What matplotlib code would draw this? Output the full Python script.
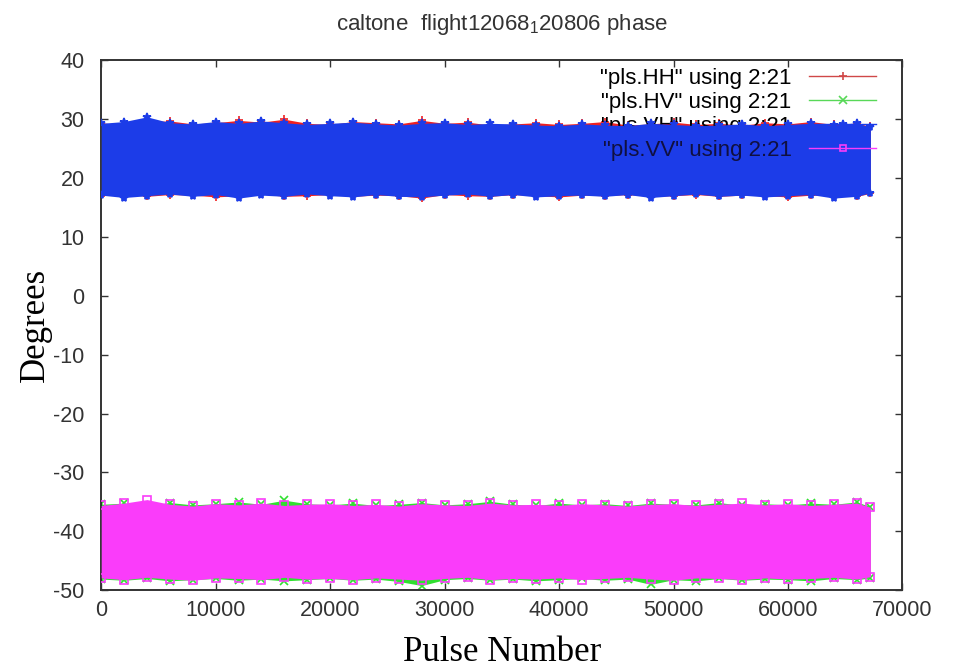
import matplotlib
matplotlib.use("Agg")
import matplotlib.pyplot as plt
from matplotlib.lines import Line2D

# sample positions along the pulse axis
pulse = [0, 2000, 4000, 6000, 8000, 10000, 12000, 14000, 16000, 18000,
         20000, 22000, 24000, 26000, 28000, 30000, 32000, 34000, 36000, 38000,
         40000, 42000, 44000, 46000, 48000, 50000, 52000, 54000, 56000, 58000,
         60000, 62000, 64000, 66000, 67200]

# upper / lower edges of each band, degrees
hh_hi = [29.4, 29.0, 29.6, 29.7, 29.2, 29.4, 29.8, 29.5, 30.0, 29.3,
         29.1, 29.6, 29.4, 29.2, 29.8, 29.3, 29.5, 29.0, 29.2, 29.4,
         29.1, 29.3, 29.6, 29.0, 29.2, 29.5, 29.1, 29.3, 29.0, 29.4,
         29.2, 29.6, 29.1, 29.3, 28.8]
hh_lo = [17.0, 17.3, 16.9, 17.2, 17.1, 16.8, 17.0, 17.3, 16.9, 17.0,
         17.2, 16.9, 17.1, 17.0, 16.6, 17.2, 17.0, 16.9, 17.2, 17.0,
         16.8, 17.1, 17.0, 17.2, 16.9, 17.0, 17.2, 16.9, 17.1, 17.0,
         16.8, 17.1, 17.0, 16.9, 17.4]
hv_hi = [-35.4, -35.2, -35.6, -35.1, -35.5, -35.3, -35.0, -35.4, -34.7, -35.3,
         -35.5, -35.2, -35.6, -35.4, -35.1, -35.5, -35.3, -34.9, -35.4, -35.6,
         -35.2, -35.5, -35.3, -35.6, -35.2, -35.4, -35.5, -35.1, -35.6, -35.3,
         -35.5, -35.2, -35.4, -35.0, -35.8]
hv_lo = [-48.1, -48.3, -48.0, -48.4, -48.2, -48.0, -48.3, -48.1, -48.4, -48.2,
         -48.0, -48.3, -48.1, -48.5, -49.2, -48.2, -48.0, -48.3, -48.1, -48.4,
         -48.2, -48.0, -48.3, -48.1, -49.0, -48.2, -48.4, -48.0, -48.3, -48.1,
         -48.2, -48.4, -48.0, -48.2, -47.9]
vh_hi = [29.3, 29.6, 30.4, 29.4, 29.2, 29.6, 29.3, 29.7, 29.4, 29.1,
         29.3, 29.5, 29.2, 29.0, 29.3, 29.4, 29.1, 29.3, 29.2, 29.0,
         28.9, 29.2, 29.0, 28.9, 29.3, 29.1, 28.9, 29.0, 29.2, 28.9,
         29.1, 29.3, 29.0, 29.4, 28.6]
vh_lo = [17.1, 16.7, 17.0, 17.3, 16.9, 17.2, 16.6, 17.1, 16.9, 17.3,
         17.0, 16.8, 17.2, 16.9, 16.8, 17.1, 17.3, 16.9, 17.2, 16.8,
         17.0, 17.1, 16.9, 17.2, 16.7, 17.0, 17.3, 16.9, 17.1, 16.8,
         17.0, 17.2, 16.6, 16.9, 17.5]
vv_hi = [-35.6, -35.2, -34.6, -35.4, -35.7, -35.3, -35.5, -35.2, -35.6, -35.4,
         -35.3, -35.6, -35.4, -35.7, -35.3, -35.5, -35.6, -35.2, -35.5, -35.4,
         -35.6, -35.3, -35.5, -35.7, -35.4, -35.3, -35.6, -35.4, -35.2, -35.5,
         -35.3, -35.6, -35.4, -35.2, -35.9]
vv_lo = [-47.9, -48.2, -47.8, -48.1, -48.3, -47.9, -48.0, -48.2, -47.8, -48.1,
         -48.0, -48.2, -47.9, -48.1, -48.3, -48.0, -47.8, -48.2, -48.0, -48.1,
         -47.9, -48.2, -48.0, -47.8, -48.1, -48.3, -47.9, -48.0, -48.2, -47.9,
         -48.1, -48.0, -47.8, -48.1, -47.7]

labels = ['"pls.HH" using 2:21', '"pls.HV" using 2:21',
          '"pls.VH" using 2:21', '"pls.VV" using 2:21']
x_ticks = [0, 10000, 20000, 30000, 40000, 50000, 60000, 70000]
y_ticks = [-50, -40, -30, -20, -10, 0, 10, 20, 30, 40]

RED = "#f02020"
GREEN = "#30e030"
BLUE = "#1c3ce8"
MAGENTA = "#fa3cfa"

plt.rcParams["font.family"] = ["Liberation Sans", "DejaVu Sans"]
plt.rcParams["axes.unicode_minus"] = False
fig = plt.figure(figsize=(9.55, 6.7), dpi=100)
ax = fig.add_axes([0.106, 0.119, 0.839, 0.791])

series = [
    (hh_hi, hh_lo, RED, "+", 2),
    (hv_hi, hv_lo, GREEN, "x", 2),
    (vh_hi, vh_lo, BLUE, "*", 4),
    (vv_hi, vv_lo, MAGENTA, "s", 6),
]
for hi, lo, col, mk, z in series:
    ax.fill_between(pulse, lo, hi, color=col, lw=0, zorder=z)
    mfc = "none" if mk == "s" else col
    for edge in (hi, lo):
        ax.plot(pulse, edge, ls="none", marker=mk, ms=6, mec=col, mfc=mfc,
                mew=1.2, zorder=z)

ax.set_xlim(0, 70000)
ax.set_ylim(-50, 40)
ax.set_xticks(x_ticks)
ax.set_yticks(y_ticks)
ax.tick_params(direction="in", length=5, width=1, top=True, right=True,
               labelsize=15.5, colors="#333333")
ax.tick_params(axis="x", pad=7)
ax.tick_params(axis="y", pad=12)
for s in ax.spines.values():
    s.set_linewidth(1.4)
    s.set_color("#333333")

ax.set_title(r"caltone  flight12068$_\mathregular{1}$20806 phase",
             fontsize=16, color="#333333", pad=22)
ax.set_xlabel("Pulse Number", family="Liberation Serif", fontsize=25, labelpad=11)
ax.set_ylabel("Degrees", family="Liberation Serif", fontsize=25, labelpad=1)

# gnuplot draws each key entry right before its data, so VH's entry is
# hidden by the blue band while VV's entry ends up on top of it
handles = [
    Line2D([], [], color="#d04848", lw=1, marker="+", ms=6, mew=1.2),
    Line2D([], [], color="#58d858", lw=1, marker="x", ms=6, mew=1.2),
    Line2D([], [], color=BLUE, lw=1, marker="*", ms=6, mew=1.2),
    Line2D([], [], color=MAGENTA, lw=1, marker="s", ms=5, mew=1.2, mfc="none"),
]
leg_kw = dict(loc="upper right", markerfirst=False, frameon=False,
              fontsize=16, handlelength=3.0, handletextpad=0.8,
              labelspacing=0.12, borderpad=0, borderaxespad=0)
leg1 = ax.legend(handles[:3], labels[:3], bbox_to_anchor=(0.967, 0.985), **leg_kw)
leg1.set_zorder(3)
ax.add_artist(leg1)
leg2 = ax.legend(handles[3:], labels[3:], bbox_to_anchor=(0.967, 0.85), **leg_kw)
leg2.set_zorder(10)
for t in leg2.get_texts():
    t.set_color("#101040")

fig.savefig("out.png", dpi=100)
